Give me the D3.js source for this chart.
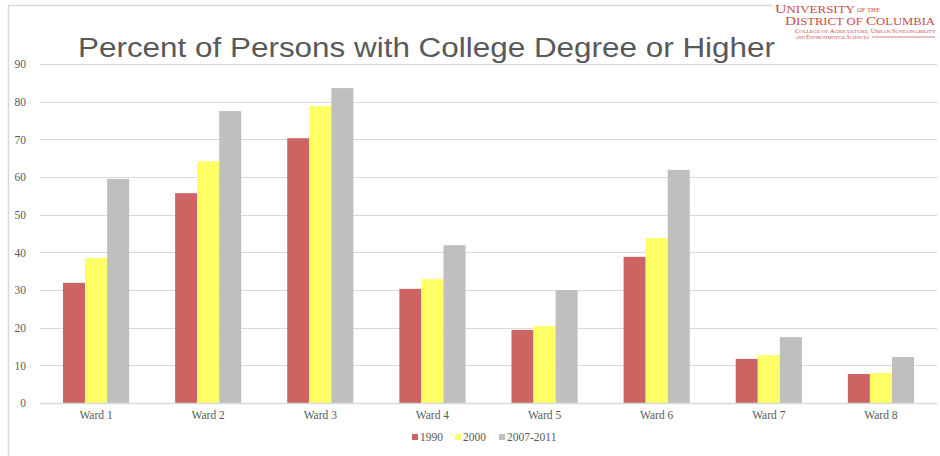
<!DOCTYPE html>
<html lang="en">
<head>
<meta charset="UTF-8">
<title>Percent of Persons with College Degree or Higher</title>
<script src="https://d3js.org/d3.v7.min.js"></script>
<style>
  body { margin: 0; background: #fff; }
  .tick text { font-family: "Liberation Serif", "Times New Roman", serif; font-size: 11.5px; fill: #595959; }
  .legend text { font-family: "Liberation Serif", serif; font-size: 11.5px; fill: #595959; }
</style>
</head>
<body>
<svg id="chart" width="940" height="456"></svg>
<script>
const wards = ["Ward 1", "Ward 2", "Ward 3", "Ward 4", "Ward 5", "Ward 6", "Ward 7", "Ward 8"];
const seriesNames = ["1990", "2000", "2007-2011"];
const v1990 = [31.9, 55.7, 70.3, 30.3, 19.4, 38.8, 11.7, 7.7];
const v2000 = [38.5, 64.2, 78.8, 32.9, 20.4, 43.8, 12.7, 8.0];
const v2007 = [59.5, 77.5, 83.6, 41.9, 30.0, 61.9, 17.5, 12.2];
const yTicks = [0, 10, 20, 30, 40, 50, 60, 70, 80, 90];
const colors = ["#cd6464", "#ffff66", "#bfbfbf"];

const series = [v1990, v2000, v2007];
const svg = d3.select("#chart");

// slide frame
svg.append("line").attr("x1", 8.5).attr("x2", 8.5).attr("y1", 5).attr("y2", 456)
  .attr("stroke", "#d9d9d9").attr("stroke-width", 1.5);
svg.append("line").attr("x1", 8).attr("x2", 772).attr("y1", 5.5).attr("y2", 5.5)
  .attr("stroke", "#d9d9d9").attr("stroke-width", 1.5);

const margin = { top: 64, left: 40, right: 3, bottom: 53 };
const width = 940 - margin.left - margin.right;
const height = 456 - margin.top - margin.bottom;

const g = svg.append("g").attr("transform", `translate(${margin.left},${margin.top})`);

const x = d3.scaleBand().domain(wards).range([0, width]).paddingInner(0.41).paddingOuter(0.205);
const xs = d3.scaleBand().domain(seriesNames).range([0, x.bandwidth()]);
const y = d3.scaleLinear().domain([0, 90]).range([height, 0]);

// gridlines
g.append("g").selectAll("line").data(yTicks).join("line")
  .attr("x1", 0).attr("x2", width)
  .attr("y1", d => Math.round(y(d)) + 0.5).attr("y2", d => Math.round(y(d)) + 0.5)
  .attr("stroke", "#d9d9d9").attr("stroke-width", 1);

// y axis labels
const yAxis = g.append("g").call(d3.axisLeft(y).tickValues(yTicks).tickSize(0).tickPadding(14));
yAxis.select(".domain").remove();

// bars
const groups = g.append("g").selectAll("g").data(wards).join("g")
  .attr("transform", d => `translate(${x(d)},0)`);
groups.selectAll("rect")
  .data((w, i) => seriesNames.map((s, j) => ({ s, j, v: series[j][i] })))
  .join("rect")
  .attr("x", d => xs(d.s))
  .attr("width", xs.bandwidth())
  .attr("y", d => y(d.v))
  .attr("height", d => y(0) - y(d.v))
  .attr("fill", d => colors[d.j]);

// x axis
const xAxis = g.append("g").attr("transform", `translate(0,${height})`)
  .call(d3.axisBottom(x).tickSize(0).tickPadding(8));
xAxis.select(".domain").attr("stroke", "#d9d9d9").attr("stroke-width", 1.5);

// title
svg.append("text").attr("x", 78).attr("y", 57)
  .attr("font-family", "Liberation Sans, Arial, sans-serif").attr("font-size", 27)
  .attr("textLength", 697).attr("lengthAdjust", "spacingAndGlyphs")
  .attr("fill", "#595959").text("Percent of Persons with College Degree or Higher");

// legend
const legend = svg.append("g").attr("class", "legend").attr("transform", "translate(412,441)");
const lx = [0, 43, 87];
seriesNames.forEach((s, j) => {
  legend.append("rect").attr("x", lx[j]).attr("y", -7).attr("width", 6).attr("height", 6).attr("fill", colors[j]);
  legend.append("text").attr("x", lx[j] + 8).attr("y", 0).text(s);
});

// logo (small caps built from two sizes)
const logo = svg.append("g").attr("font-family", "Liberation Serif, serif").attr("fill", "#c94a4a");
function smallCaps(xPos, yPos, big, small, parts, len) {
  const t = logo.append("text").attr("x", xPos).attr("y", yPos)
    .attr("textLength", len).attr("lengthAdjust", "spacingAndGlyphs");
  parts.forEach(p => t.append("tspan").attr("font-size", p[1] ? big : small).text(p[0]));
}
smallCaps(775, 12.5, 13.5, 11, [["U", 1], ["NIVERSITY", 0]], 80);
smallCaps(857, 11.5, 7, 5.5, [["OF THE", 0]], 23);
smallCaps(785, 24.5, 11.5, 9.5, [["D", 1], ["ISTRICT OF ", 0], ["C", 1], ["OLUMBIA", 0]], 150);
smallCaps(795, 32.5, 5.5, 4.5, [["C", 1], ["OLLEGE OF ", 0], ["A", 1], ["GRICULTURE, ", 0], ["U", 1], ["RBAN ", 0], ["S", 1], ["USTAINABILITY", 0]], 141);
smallCaps(795, 38.5, 5.5, 4.5, [["AND ", 0], ["E", 1], ["NVIRONMENTAL ", 0], ["S", 1], ["CIENCES", 0]], 74);
svg.append("line").attr("x1", 872).attr("x2", 935).attr("y1", 37).attr("y2", 37).attr("stroke", "#c94a4a").attr("stroke-width", 0.7);
</script>
</body>
</html>
